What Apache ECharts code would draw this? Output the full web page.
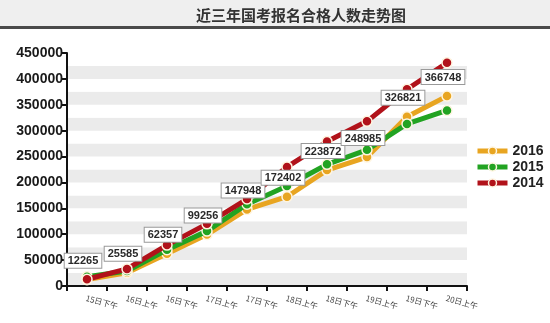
<!DOCTYPE html>
<html>
<head>
<meta charset="utf-8">
<script src="https://cdn.jsdelivr.net/npm/echarts@6/dist/echarts.min.js"></script>
<style>html,body{margin:0;padding:0;background:#fff}#c{width:550px;height:323px}</style>
</head>
<body>
<div id="c"></div>
<script>
const titleText = '近三年国考报名合格人数走势图';
const categories = ['15日下午','16日上午','16日下午','17日上午','17日下午','18日上午','18日下午','19日上午','19日下午','20日上午'];
const values2016 = [12265, 25585, 62357, 99256, 147948, 172402, 223872, 248985, 326821, 366748];
const values2015 = [18000, 29000, 70000, 106000, 158000, 193000, 235000, 263000, 313000, 339000];
const values2014 = [13000, 33000, 79000, 120000, 168000, 230000, 279000, 318000, 380000, 431000];
const seriesNames = ['2016', '2015', '2014'];
const yTicks = [0, 50000, 100000, 150000, 200000, 250000, 300000, 350000, 400000, 450000];

const colors = {'2016': '#e8a521', '2015': '#22a322', '2014': '#b1121a'};
const dataMap = {'2016': values2016, '2015': values2015, '2014': values2014};

const chart = echarts.init(document.getElementById('c'), null, {renderer: 'canvas'});

function mkSeries(name, z) {
  return {
    name: name,
    type: 'line',
    data: dataMap[name],
    z: z,
    lineStyle: {width: 5, color: colors[name]},
    symbol: 'circle',
    symbolSize: 10,
    itemStyle: {color: colors[name], borderColor: '#fff5e0', borderWidth: 1.5},
    emphasis: {disabled: true},
    animation: false
  };
}

const labelSeries = {
  name: '2016标签',
  type: 'scatter',
  data: values2016,
  z: 10,
  silent: true,
  symbol: 'circle',
  symbolSize: 10,
  itemStyle: {color: 'rgba(0,0,0,0)', opacity: 1},
  label: {
    show: true,
    position: 'top',
    distance: 7,
    offset: [-4, 0],
    formatter: p => String(p.value),
    fontFamily: 'Liberation Sans, Arial, sans-serif',
    fontWeight: 'bold',
    fontSize: 11,
    color: '#2a2a2a',
    opacity: 1,
    backgroundColor: '#fff',
    borderColor: '#999',
    borderWidth: 1,
    padding: [2, 3, 1, 3]
  },
  emphasis: {disabled: true},
  animation: false
};

chart.setOption({
  animation: false,
  graphic: [
    {type: 'rect', shape: {x: 0, y: 0, width: 550, height: 26}, style: {fill: '#efefef'}, z: -10},
    {type: 'rect', shape: {x: 0, y: 26, width: 550, height: 3}, style: {fill: '#4a4a4a'}, z: -10}
  ],
  title: {
    text: titleText,
    left: 296,
    textAlign: 'center',
    top: 3,
    textStyle: {fontFamily: 'Noto Sans CJK SC', fontWeight: 'bold', fontSize: 15, color: '#333'}
  },
  legend: {
    data: seriesNames,
    orient: 'vertical',
    left: 475,
    top: 144,
    padding: 0,
    itemWidth: 30,
    itemHeight: 10,
    itemGap: 2,
    lineStyle: {width: 5},
    itemStyle: {borderColor: '#fff5e0', borderWidth: 1.5},
    textStyle: {fontFamily: 'Liberation Sans, Arial, sans-serif', fontWeight: 'bold', fontSize: 14, color: '#222'}
  },
  grid: {left: 67, right: 83, top: 53, bottom: 37, containLabel: false},
  xAxis: {
    type: 'category',
    data: categories,
    boundaryGap: true,
    axisLine: {lineStyle: {color: '#111', width: 2}},
    axisTick: {show: true, length: 5, lineStyle: {color: '#111', width: 2}},
    axisLabel: {
      rotate: -15,
      interval: 0,
      fontSize: 8,
      color: '#444',
      margin: 8,
      align: 'left',
      verticalAlign: 'top',
      fontFamily: 'Noto Sans CJK SC'
    },
    splitLine: {show: false}
  },
  yAxis: [
    {
      type: 'value',
      min: 0,
      max: 450000,
      interval: 50000,
      axisLine: {show: true, lineStyle: {color: '#111', width: 2}},
      axisTick: {show: true, length: 6, lineStyle: {color: '#111', width: 2}},
      axisLabel: {
        fontFamily: 'Liberation Sans, Arial, sans-serif',
        fontWeight: 'bold',
        fontSize: 14,
        color: '#1a1a1a',
        margin: 4,
        formatter: v => yTicks.includes(v) ? String(v) : ''
      },
      splitLine: {show: false},
      z: 5
    },
    {
      type: 'value',
      min: 0,
      max: 450000,
      interval: 25000,
      show: true,
      position: 'right',
      axisLine: {show: false},
      axisTick: {show: false},
      axisLabel: {show: false},
      splitLine: {show: false},
      splitArea: {show: true, areaStyle: {color: ['#ebebeb', '#ffffff']}}
    }
  ],
  series: [mkSeries('2016', 2), mkSeries('2015', 3), mkSeries('2014', 4), labelSeries]
});
</script>
</body>
</html>
